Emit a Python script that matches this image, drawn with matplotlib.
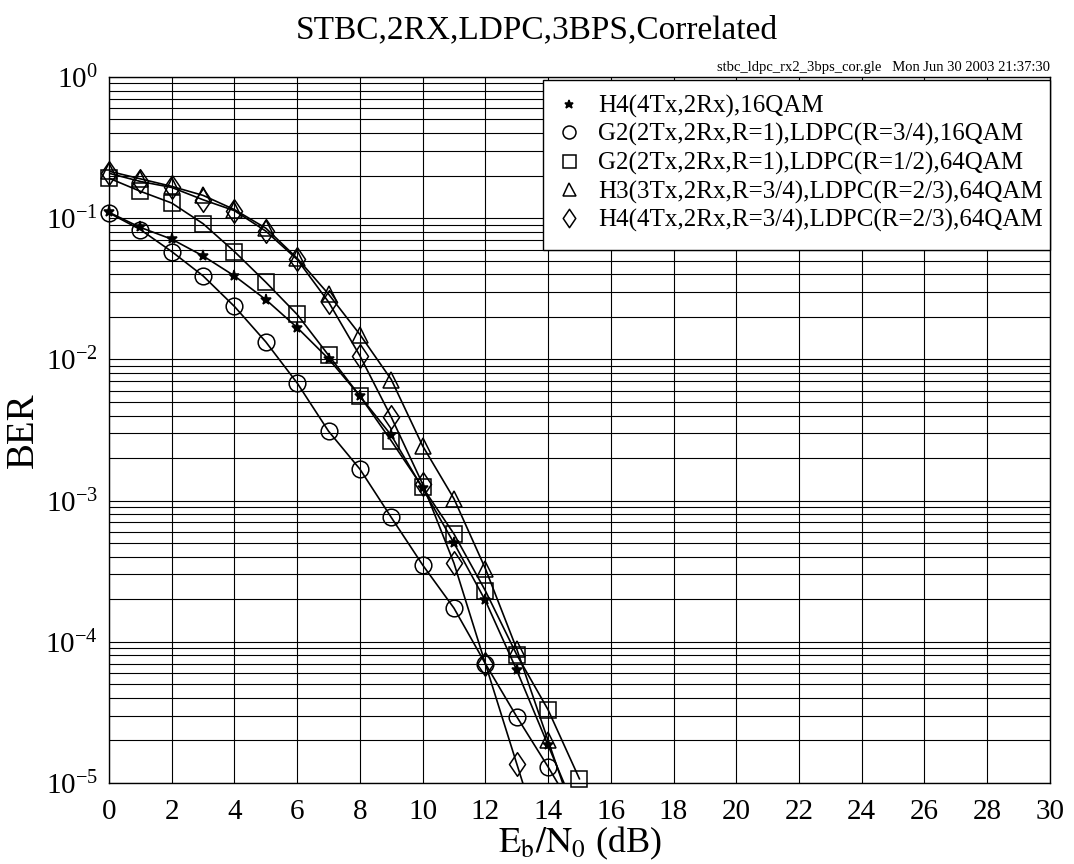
import numpy as np
import matplotlib
matplotlib.use("Agg")
import matplotlib.pyplot as plt
from matplotlib.path import Path
from matplotlib.patches import Rectangle
from matplotlib.ticker import LogLocator, FixedLocator

# ---------------------------
# data (BER vs Eb/N0)
# ---------------------------
snr_star = [0, 1, 2, 3, 4, 5, 6, 7, 8, 9, 10, 11, 12, 13, 14, 15]
ber_star = [0.11, 0.086, 0.071, 0.054, 0.039, 0.0265, 0.0168, 0.0101, 0.0055,
            0.0029, 0.00122, 0.0005, 1.96e-4, 6.3e-5, 1.85e-5, 5.5e-6]

snr_circ = [0, 1, 2, 3, 4, 5, 6, 7, 8, 9, 10, 11, 12, 13, 14, 15]
ber_circ = [0.109, 0.083, 0.058, 0.039, 0.0237, 0.0133, 0.0068, 0.0031, 0.00167,
            0.00076, 0.00035, 1.73e-4, 7e-5, 2.95e-5, 1.3e-5, 5.5e-6]

snr_sq = [0, 1, 2, 3, 4, 5, 6, 7, 8, 9, 10, 11, 12, 13, 14, 15]
ber_sq = [0.192, 0.155, 0.128, 0.0914, 0.058, 0.0352, 0.0208, 0.0107, 0.0055,
          0.00265, 0.00124, 5.8e-4, 2.3e-4, 8.1e-5, 3.3e-5, 1.07e-5]

snr_tri = [0, 1, 2, 3, 4, 5, 6, 7, 8, 9, 10, 11, 12, 13, 14, 15]
ber_tri = [0.215, 0.19, 0.168, 0.145, 0.115, 0.085, 0.052, 0.029, 0.015,
           0.0072, 0.00244, 0.00103, 3.3e-4, 8.9e-5, 2.0e-5, 4.5e-6]

snr_dia = [0, 1, 2, 3, 4, 5, 6, 7, 8, 9, 10, 11, 12, 13, 14]
ber_dia = [0.208, 0.182, 0.165, 0.135, 0.113, 0.081, 0.051, 0.0255, 0.0106,
           0.0039, 0.00131, 3.6e-4, 7e-5, 1.37e-5, 2.7e-6]

labels = ['H4(4Tx,2Rx),16QAM',
          'G2(2Tx,2Rx,R=1),LDPC(R=3/4),16QAM',
          'G2(2Tx,2Rx,R=1),LDPC(R=1/2),64QAM',
          'H3(3Tx,2Rx,R=3/4),LDPC(R=2/3),64QAM',
          'H4(4Tx,2Rx,R=3/4),LDPC(R=2/3),64QAM']

x_ticks = list(range(0, 31, 2))
y_min, y_max = 1e-5, 1.0

# ---------------------------
# style
# ---------------------------
plt.rcParams['font.family'] = ['Liberation Serif', 'DejaVu Serif']
plt.rcParams['mathtext.fontset'] = 'stix'
plt.rcParams['axes.unicode_minus'] = False

# open diamond, narrower than tall
diamond = Path([(0, 1), (0.68, 0), (0, -1), (-0.68, 0), (0, 1)],
               [Path.MOVETO, Path.LINETO, Path.LINETO, Path.LINETO, Path.CLOSEPOLY])

fig = plt.figure(figsize=(10.74, 8.64), dpi=100)
ax = fig.add_axes([0.1015, 0.0938, 0.876, 0.8171])

series = [(snr_star, ber_star, '*', 8, 'black'),
          (snr_circ, ber_circ, 'o', 12, 'none'),
          (snr_sq, ber_sq, 's', 12, 'none'),
          (snr_tri, ber_tri, '^', 12, 'none'),
          (snr_dia, ber_dia, diamond, 17, 'none')]

for (s, b, m, ms, fc), lab in zip(series, labels):
    ax.plot(s, b, color='black', lw=1.2, zorder=3)
    # markers only where they fall inside the plotted range
    s_in = [xi for xi, yi in zip(s, b) if yi >= y_min]
    b_in = [yi for yi in b if yi >= y_min]
    ax.plot(s_in, b_in, linestyle='none', marker=m, markersize=ms,
            markerfacecolor=fc, markeredgecolor='black',
            markeredgewidth=1.1, label=lab, zorder=4, clip_on=False)

ax.set_yscale('log')
ax.set_xlim(0, 30)
ax.set_ylim(y_min, y_max)
ax.xaxis.set_major_locator(FixedLocator(x_ticks))
ax.yaxis.set_major_locator(LogLocator(base=10, numticks=10))
ax.yaxis.set_minor_locator(LogLocator(base=10, subs=np.arange(2, 10), numticks=20))
ax.yaxis.set_minor_formatter(plt.NullFormatter())

ax.grid(True, which='major', axis='x', color='black', lw=0.8)
ax.grid(True, which='both', axis='y', color='black', lw=0.8)
ax.tick_params(which='both', length=0, labelsize=21)
ax.tick_params(axis='x', pad=11.5)
ax.tick_params(axis='y', pad=8)
for sp in ax.spines.values():
    sp.set_linewidth(1.0)

ax.set_xlabel(r'$\mathrm{E_b/N_0}$ (dB)', fontsize=26, labelpad=0)
ax.set_ylabel('BER', fontsize=28)
ax.yaxis.set_label_coords(-0.071, 0.5)
fig.text(0.5, 0.965, 'STBC,2RX,LDPC,3BPS,Correlated', fontsize=24,
         ha='center', va='center')
ax.text(1.0, 1.004, 'stbc_ldpc_rx2_3bps_cor.gle   Mon Jun 30 2003 21:37:30',
        transform=ax.transAxes, fontsize=10.5, ha='right', va='bottom')

# legend box drawn separately so its padding can be uneven, as in the original
box = Rectangle((0.4612, 0.755), 1.0 - 0.4612, 0.9958 - 0.755,
                transform=ax.transAxes, facecolor='white', edgecolor='black',
                lw=1.0, zorder=9, clip_on=False)
ax.add_patch(box)
leg = ax.legend(loc='upper left', bbox_to_anchor=(0.4729, 0.975),
                fontsize=18, frameon=False, handlelength=1.2,
                handletextpad=0.56, labelspacing=0.22, borderpad=0,
                borderaxespad=0, markerscale=0.78)
leg.set_zorder(10)

fig.savefig('out.png', dpi=100)
